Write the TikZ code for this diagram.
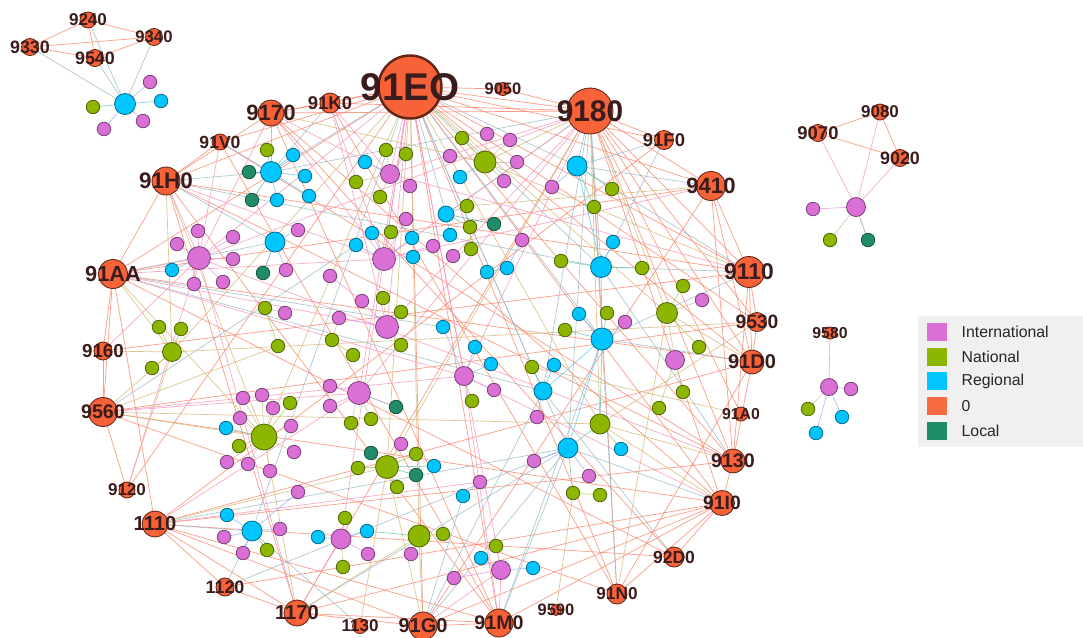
\documentclass[tikz,border=0pt]{standalone}
\usepackage{fontspec}
\setmainfont{Liberation Sans}
\usetikzlibrary{positioning,backgrounds}

% node colours, one per level
\definecolor{intl}{RGB}{218,112,214}
\definecolor{natl}{RGB}{141,182,0}
\definecolor{regl}{RGB}{0,197,255}
\definecolor{zero}{RGB}{248,98,56}
\definecolor{locl}{RGB}{32,140,106}
\definecolor{lbltext}{RGB}{58,28,28}
\definecolor{legbg}{RGB}{240,240,240}

% edge colours: blend of the two ends
\definecolor{eoo}{RGB}{250,132,105}
\definecolor{eob}{RGB}{155,186,198}
\definecolor{eog}{RGB}{214,183,118}
\definecolor{eop}{RGB}{244,150,184}
\definecolor{sbb}{RGB}{90,200,240}
\definecolor{sbp}{RGB}{150,176,240}
\definecolor{sbg}{RGB}{110,200,165}
\definecolor{sbt}{RGB}{100,168,170}
\definecolor{sgp}{RGB}{205,192,150}
\definecolor{sgg}{RGB}{172,205,80}
\definecolor{spp}{RGB}{230,150,230}
\definecolor{spt}{RGB}{150,140,170}

\newcommand\lblfont[1]{\fontsize{#1}{#1}\selectfont\bfseries}

\tikzset{
    dot/.style={circle, inner sep=0pt, minimum size=0.27cm, line width=0.45pt},
    pnode/.style={dot, fill=intl, draw=intl!55!black},
    gnode/.style={dot, fill=natl, draw=natl!55!black},
    bnode/.style={dot, fill=regl, draw=regl!55!black},
    tnode/.style={dot, fill=locl, draw=locl!60!black},
    znode/.style={circle, inner sep=0pt, minimum size=#1 cm, fill=zero, draw=zero!40!black, line width=0.5pt},
    lbl/.style={inner sep=0pt, text=lbltext},
    edge/.style={line width=0.4pt, draw=#1, opacity=0.8},
    legsq/.style={minimum width=0.4cm, minimum height=0.36cm, inner sep=0pt},
    legtx/.style={inner sep=0pt, font=\fontsize{9}{9}\selectfont, text=black!85, anchor=west}
}

\begin{document}
\begin{tikzpicture}[x=0.02cm, y=-0.02cm]
\useasboundingbox (0,0) rectangle (1083,637);

% orange "0" nodes with their codes
\node[znode=1.26, line width=1.4pt, draw=zero!40!black,
      label={[lbl, font={\lblfont{22}}]center:91EO}] (c91EO) at (410,87) {};
\foreach \n/\x/\y/\d/\f in {
    9180/590/111/0.92/17, 9050/503/89/0.26/9.4, 91K0/330/103/0.4/10.5,
    9170/271/113/0.52/12.6, 91V0/220/142/0.32/10, 91F0/664/140/0.38/10.5,
    91H0/166/181/0.56/12.8, 9410/711/186/0.58/12.6, 91AA/113/274/0.58/12.4,
    9110/749/272/0.62/13, 9530/757/322/0.38/11, 9160/103/351/0.36/10.7,
    91D0/752/362/0.48/11.4, 9560/103/412/0.58/11.2, 91A0/741/414/0.28/9,
    9130/733/461/0.48/11.2, 9120/127/490/0.32/9.7, 91I0/722/503/0.5/11,
    1110/155/524/0.52/11.5, 92D0/674/557/0.4/10, 1120/225/587/0.36/10.2,
    91N0/617/594/0.4/9.8, 9590/556/610/0.22/9.4, 1170/297/613/0.52/11.5,
    1130/360/626/0.3/9.7, 91G0/423/626/0.56/11.4, 91M0/499/623/0.56/11.2,
    9240/88/20/0.32/9.7, 9330/30/47/0.34/10.2, 9540/95/58/0.34/10.2,
    9340/154/37/0.34/9.5, 9080/880/112/0.32/9.7, 9070/818/133/0.34/10.5,
    9020/900/158/0.34/10.2, 9580/830/333/0.24/9}
  \node[znode=\d, label={[lbl, font={\lblfont{\f}}]center:\n}] (c\n) at (\x,\y) {};

% hubs
\foreach \n/\x/\y/\d in {t0/125/104/0.42, a0/271/172/0.42, d0/577/166/0.4,
    f0/275/242/0.4, h0/446/214/0.32, k0/601/267/0.42, n0/602/339/0.44,
    u0/543/391/0.36, w0/568/448/0.4, z0/252/531/0.4}
  \node[bnode, minimum size=\d cm] (\n) at (\x,\y) {};
\foreach \n/\x/\y/\d in {r0/856/207/0.38, q0/829/387/0.34, b0/390/174/0.38,
    e0/199/258/0.46, g0/384/259/0.46, m0/387/327/0.46, l0/464/376/0.38,
    x0/359/393/0.46, vv0/341/539/0.4, xx0/501/570/0.38, p4/675/360/0.38}
  \node[pnode, minimum size=\d cm] (\n) at (\x,\y) {};
\foreach \n/\x/\y/\d in {c0/485/162/0.44, i0/172/352/0.38, p0/667/313/0.42,
    v0/600/424/0.4, s0/264/437/0.52, y0/387/467/0.46, ww0/419/536/0.44}
  \node[gnode, minimum size=\d cm] (\n) at (\x,\y) {};

% leaves
\foreach \n/\x/\y in {t1/150/82, t3/143/121, t4/104/129, r1/813/209, q1/851/389,
    b4/410/186, c2/487/134, c3/510/140, c4/517/162, c5/450/156, c7/504/181,
    d3/552/187, e1/198/231, e2/233/237, e3/177/244, e4/233/259, e6/194/284,
    e7/223/282, f2/286/270, f3/298/230, g6/406/219, g7/433/246, h6/453/256,
    h7/522/240, j2/285/313, m2/362/301, m5/339/318, m8/330/276, l4/494/390,
    n3/625/322, p2/702/300, u3/537/417, w1/534/461, w2/589/476, x1/330/386,
    x2/330/406, s1/243/398, s2/262/395, s3/273/408, s4/240/418, s5/291/426,
    s6/227/462, s7/248/464, s8/270/471, s9/294/452, y7/401/444, z2/280/529,
    z3/224/537, z4/243/553, z6/298/492, vv4/368/554, ww2/411/554, xx4/454/578,
    mi1/480/482}
  \node[pnode] (\n) at (\x,\y) {};
\foreach \n/\x/\y in {t5/93/107, r2/830/240, q2/808/409, a1/267/150, b2/386/150,
    b3/406/154, b5/356/182, b6/380/197, c1/462/138, d1/612/189, d2/594/207,
    g3/391/232, h1/467/206, h2/470/227, h5/471/249, k2/642/268, k3/561/261,
    i1/159/327, i2/181/329, i3/152/368, j1/265/308, j3/278/346, m1/383/298,
    m3/401/312, m4/401/345, m6/332/340, m7/353/355, l5/472/401, n2/607/313,
    n4/565/330, p1/683/286, p3/699/347, p5/683/392, p6/659/408, u1/532/367,
    w3/573/493, w4/600/495, x4/351/423, x5/371/419, s10/290/403, s12/239/446,
    y2/416/454, y3/358/468, y6/397/487, z5/267/550, vv1/345/518, vv5/343/567,
    ww1/443/534, xx1/496/546}
  \node[gnode] (\n) at (\x,\y) {};
\foreach \n/\x/\y in {t2/161/101, q3/842/417, q4/816/433, a2/293/155, a3/305/176,
    a4/309/196, a5/277/200, b1/365/162, c6/460/177, g1/356/245, g2/372/233,
    g4/412/238, g5/413/257, h4/450/235, k1/613/242, k4/507/268, k5/487/272,
    e5/172/270, l1/443/327, l2/475/347, l3/491/364, n1/579/314, u2/554/365,
    v1/621/449, s11/226/428, y4/434/466, z1/227/515, vv2/318/537, vv3/367/531,
    xx2/481/558, xx3/533/568, mi2/463/496}
  \node[bnode] (\n) at (\x,\y) {};
\foreach \n/\x/\y in {r3/868/240, a6/252/200, a7/249/172, f1/263/273, h3/494/224,
    x3/396/407, y1/371/453, y5/416/475}
  \node[tnode] (\n) at (\x,\y) {};

\begin{scope}[on background layer]
% links between "0" nodes
\foreach \a/\b in {c91EO/c9170, c91EO/c91K0, c91EO/c9050, c91EO/c9180, c91EO/c91V0,
    c91EO/c91H0, c91EO/c9410, c91EO/c9110, c91EO/c91F0, c91EO/c91G0, c91EO/c91M0,
    c91EO/c91D0, c91EO/c9130, c91EO/c91I0, c91EO/c91AA, c91EO/c9530, c9170/c91K0,
    c9170/c91H0, c9170/c9180, c91K0/c9180, c9180/c9050, c9180/c91F0, c9180/c9410,
    c9180/c9110, c9180/c9530, c9180/c91D0, c9180/c9130, c9180/c91I0, c9180/c91N0,
    c9180/c91A0, c91H0/c91AA, c91H0/c91V0, c91AA/c9160, c91AA/c9560, c9160/c9560,
    c9560/c9120, c1110/c1120, c1110/c1170, c1110/c91G0, c1110/c91M0, c1110/c92D0,
    c1120/c1170, c1170/c91G0, c1170/c91M0, c91G0/c91M0, c91N0/c91I0, c92D0/c91I0,
    c9410/c9110, c9410/c91D0, c9410/c9130, c9110/c9530, c9110/c91D0, c9110/c9130,
    c9530/c91D0, c91D0/c9130, c91D0/c91N0, c91I0/c1170, c91I0/c91G0, c9130/c91I0,
    c91M0/c91I0, c91H0/c9130, c91H0/c9110, c91AA/c9410, c91AA/c91D0, c9560/c9530,
    c9560/c91I0, c9160/c9110, c1110/c9130, c1110/c91D0, c1120/c91I0, c1170/c9180,
    c91G0/c9410, c91M0/c9170, c91M0/c91H0, c91N0/c91EO, c92D0/c91AA, c9120/c91EO,
    c1170/c91H0, c91V0/c9130, c9170/c91I0, c91K0/c91N0, c9170/c92D0, c91F0/c1110,
    c91AA/c1110, c9560/c91N0, c91V0/c91M0,
    c9240/c9330, c9240/c9340, c9240/c9540, c9330/c9340, c9330/c9540, c9540/c9340,
    c9070/c9080, c9080/c9020, c9070/c9020}
  \draw[edge=eoo] (\a) -- (\b);
% "0" to regional
\foreach \a/\b in {c9330/t0, c9240/t0, c9540/t0, c9340/t0, c91EO/a0, c91EO/d0,
    c91EO/k0, c91EO/n0, c91EO/h0, c91EO/w0, c91EO/u0, c91EO/z0, c9180/d0, c9180/k0,
    c9180/n0, c9180/w0, c9180/a0, c9180/h0, c9180/u0, c9170/a0, c91K0/a0, c91V0/a0,
    c91H0/a0, c91H0/f0, c91H0/k0, c91AA/f0, c91AA/u0, c91AA/l1, c1110/w0, c1110/z0,
    c1120/z0, c1120/w0, c1170/w0, c91G0/u0, c91G0/w0, c91G0/mi2, c91M0/w0, c91M0/n0,
    c91N0/n0, c92D0/u0, c91I0/w0, c91F0/d0, c91F0/k0, c9130/k0, c9410/d0, c9110/d0,
    c9110/k0, c9110/n0, c91D0/n0, c9560/g1, c1130/z0}
  \draw[edge=eob] (\a) -- (\b);
% "0" to national
\foreach \a/\b in {c91EO/c0, c91EO/y0, c91EO/p0, c91EO/s0, c91EO/ww0, c91EO/i0,
    c91EO/v0, c9180/c0, c9180/p0, c9180/v0, c9180/y0, c9170/c0, c91H0/i0, c91H0/s0,
    c91AA/i0, c91AA/s0, c9160/i0, c9560/i0, c9560/s0, c9560/j3, c9560/v0, c9120/i0,
    c1170/ww0, c1170/s0, c1130/y0, c91G0/ww0, c91G0/y0, c91N0/p0, c9590/w3,
    c9530/v0, c9530/i0, c91A0/u1, c9110/c0, c9410/h1, c91D0/p0, c9130/v0, c91I0/v0,
    c1110/y0}
  \draw[edge=eog] (\a) -- (\b);
% "0" to international
\foreach \a/\b in {c9070/r0, c9080/r0, c9020/r0, c9580/q0, c91EO/b0, c91EO/g0,
    c91EO/m0, c91EO/x0, c91EO/l0, c91EO/e0, c91EO/vv0, c91EO/xx0, c9180/b0,
    c9180/g0, c9180/l0, c9180/e0, c9180/m0, c9180/x0, c9170/b0, c9170/e0,
    c9170/g0, c91K0/b0, c91K0/g0, c91K0/m0, c91V0/e0, c91H0/e0, c91H0/g0,
    c91AA/e0, c91AA/m0, c91AA/g0, c91AA/l0, c9160/e0, c9560/x0, c9560/l0,
    c9120/e0, c1110/mi1, c1110/x0, c1170/vv0, c1170/e0, c91G0/xx0, c91M0/xx0,
    c91M0/l0, c91I0/l0, c9130/e0, c9110/b0, c9410/g0}
  \draw[edge=eop] (\a) -- (\b);

% links inside each group
\foreach \a/\b/\c in {t0/t1/sbp, t0/t2/sbb, t0/t3/sbp, t0/t4/sbp, t0/t5/sbg,
    r0/r1/spp, r0/r2/sgp, r0/r3/spt, q0/q1/spp, q0/q2/sgp, q0/q3/sbp, q0/q4/sbp,
    a0/a1/sbg, a0/a2/sbb, a0/a3/sbb, a0/a4/sbb, a0/a5/sbb, a0/a6/sbt, a0/a7/sbt,
    b0/b1/sbp, b0/b2/sgp, b0/b3/sgp, b0/b4/spp, b0/b5/sgp, b0/b6/sgp,
    c0/c1/sgg, c0/c2/sgp, c0/c3/sgp, c0/c4/sgp, c0/c5/sgp, c0/c6/sbg, c0/c7/sgp,
    d0/d1/sbg, d0/d2/sbg, d0/d3/sbp, d0/k0/sbb,
    e0/e1/spp, e0/e2/spp, e0/e3/spp, e0/e4/spp, e0/e5/sbp, e0/e6/spp, e0/e7/spp,
    f0/f1/sbt, f0/f2/sbp, f0/f3/sbp,
    g0/g1/sbp, g0/g2/sbp, g0/g3/sgp, g0/g4/sbp, g0/g5/sbp, g0/g6/spp, g0/g7/spp,
    h0/h1/sbg, h0/h2/sbg, h0/h3/sbt, h0/h4/sbb, h2/h5/sgg, h5/h6/sgp,
    k0/k1/sbb, k0/k2/sbg, k0/k3/sbg, k4/k5/sbb, k4/h7/sbp,
    i0/i1/sgg, i0/i2/sgg, i0/i3/sgg, j1/j2/sgp, j1/j3/sgg,
    m0/m1/sgp, m0/m2/spp, m0/m3/sgp, m0/m4/sgp, m0/m5/spp, m5/m6/sgp, m6/m7/sgg,
    m2/m8/spp,
    l0/l1/sbp, l0/l2/sbp, l0/l3/sbp, l0/l4/spp, l0/l5/sgp,
    n0/n1/sbb, n0/n2/sbg, n0/n3/sbp, n0/n4/sbg, n0/k0/sbb,
    p0/p1/sgg, p0/p2/sgp, p0/p3/sgg, p0/p4/sgp, p4/p5/sgp, p4/p6/sgp,
    u0/u1/sbg, u0/u2/sbb, u0/u3/sbp, u0/n0/sbb, v0/v1/sbg, v0/n0/sbg,
    w0/w1/sbp, w0/w2/sbp, w0/w3/sbg, w3/w4/sgg, w0/v0/sbg, w0/n0/sbb,
    x0/x1/spp, x0/x2/spp, x0/x3/spt, x0/x4/sgp, x0/x5/sgp,
    s0/s1/sgp, s0/s2/sgp, s0/s3/sgp, s0/s4/sgp, s0/s5/sgp, s0/s6/sgp, s0/s7/sgp,
    s0/s8/sgp, s0/s9/sgp, s0/s10/sgg, s0/s11/sbg, s0/s12/sgg,
    y0/y1/sbg, y0/y2/sgg, y0/y3/sgg, y0/y4/sbg, y0/y5/sbg, y0/y6/sgg, y0/y7/sgp,
    z0/z1/sbb, z0/z2/sbp, z0/z3/sbp, z0/z4/sbp, z0/z5/sbg, z0/z6/sbp,
    vv0/vv1/sgp, vv0/vv2/sbp, vv0/vv3/sbp, vv0/vv4/spp, vv0/vv5/sgp,
    ww0/ww1/sgg, ww0/ww2/sgp, ww0/vv3/sbg,
    xx0/xx1/sgp, xx0/xx2/sbp, xx0/xx3/sbp, xx0/xx4/spp, mi1/mi2/sbp}
  \draw[edge=\c] (\a) -- (\b);
\end{scope}

% legend
\fill[legbg] (918,316) rectangle (1083,447);
\node[legsq, fill=intl] (sqi) at (937,332) {};
\node[legsq, fill=natl, below=0.12cm of sqi] (sqn) {};
\node[legsq, fill=regl, below=0.12cm of sqn] (sqr) {};
\node[legsq, fill=zero!95!white, below=0.12cm of sqr] (sqz) {};
\node[legsq, fill=locl, below=0.12cm of sqz] (sql) {};
\node[legtx, right=0.28cm of sqi] (txi) {International};
\node[legtx, right=0.28cm of sqn] (txn) {National};
\node[legtx, right=0.28cm of sqr] (txr) {Regional};
\node[legtx, right=0.28cm of sqz] (txz) {0};
\node[legtx, right=0.28cm of sql] (txl) {Local};
\end{tikzpicture}
\end{document}
